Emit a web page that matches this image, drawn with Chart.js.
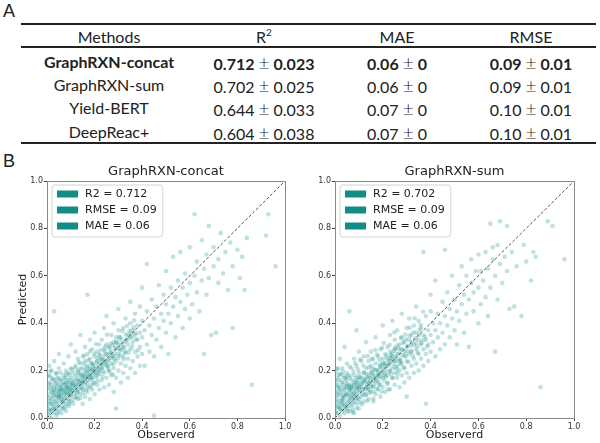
<!DOCTYPE html>
<html>
<head>
<meta charset="utf-8">
<script src="https://cdn.jsdelivr.net/npm/chart.js@4.4.0/dist/chart.umd.min.js"></script>
<style>
  html, body { margin:0; padding:0; background:#fff; }
  body { width:600px; height:443px; position:relative; overflow:hidden; font-family: Lato, "Open Sans", sans-serif; color:#222; }
  .cell { position:absolute; transform:translate(-50%,-50%); white-space:nowrap; line-height:1; font-size:16px; }
  .bold { font-weight:700; }
  .pm { font-weight:300; font-size:19px; margin:0 4px; line-height:1; }
  .rule { position:absolute; left:21px; width:575px; background:#222; }
  .panel { position:absolute; font-family: "Liberation Sans", Arial, sans-serif; font-size:18px; color:#222; }
  canvas { position:absolute; }
</style>
</head>
<body>
<div class="panel" style="left:3px;top:1px;">A</div>
<div class="panel" style="left:3px;top:151px;">B</div>
<div class="rule" style="top:23px;height:2px;"></div>
<div class="rule" style="top:46px;height:1.5px;"></div>
<div class="rule" style="top:142px;height:2px;"></div>
<div id="table"></div>
<canvas id="c1" width="300" height="283" style="left:0px;top:160px;width:300px;height:283px;"></canvas>
<canvas id="c2" width="300" height="283" style="left:300px;top:160px;width:300px;height:283px;"></canvas>
<script>
// ---------- Table data ----------
const methods = ['GraphRXN-concat', 'GraphRXN-sum', 'Yield-BERT', 'DeepReac+'];
const r2Mean  = ['0.712', '0.702', '0.644', '0.604'];
const r2Std   = ['0.023', '0.025', '0.033', '0.038'];
const maeMean = ['0.06', '0.06', '0.07', '0.07'];
const maeStd  = ['0', '0', '0', '0'];
const rmseMean = ['0.09', '0.09', '0.10', '0.10'];
const rmseStd  = ['0.01', '0.01', '0.01', '0.01'];

// ---------- Scatter data (observed, predicted) ----------
const concatPoints = [
[0.00,0.02],[0.00,0.05],[0.00,0.09],[0.00,0.13],[0.01,0.01],[0.01,0.04],[0.01,0.07],[0.01,0.10],[0.01,0.12],[0.01,0.15],[0.01,0.18],[0.01,0.22],[0.02,0.00],[0.02,0.03],[0.02,0.06],[0.02,0.08],[0.02,0.11],[0.02,0.14],[0.02,0.17],[0.02,0.20],[0.03,0.02],[0.03,0.05],[0.03,0.07],[0.03,0.09],[0.03,0.12],[0.03,0.13],[0.03,0.16],[0.03,0.24],[0.04,0.01],[0.04,0.04],[0.04,0.06],[0.04,0.10],[0.04,0.12],[0.04,0.15],[0.04,0.19],[0.05,0.03],[0.05,0.07],[0.05,0.09],[0.05,0.11],[0.05,0.14],[0.05,0.17],[0.05,0.21],[0.05,0.27],[0.06,0.02],[0.06,0.05],[0.06,0.08],[0.06,0.10],[0.06,0.13],[0.06,0.16],[0.06,0.12],[0.07,0.04],[0.07,0.07],[0.07,0.09],[0.07,0.11],[0.07,0.14],[0.07,0.18],[0.07,0.23],[0.08,0.03],[0.08,0.06],[0.08,0.10],[0.08,0.12],[0.08,0.15],[0.08,0.17],[0.08,0.20],[0.09,0.05],[0.09,0.08],[0.09,0.11],[0.09,0.13],[0.09,0.16],[0.09,0.19],[0.09,0.26],[0.10,0.07],[0.10,0.10],[0.10,0.12],[0.10,0.14],[0.10,0.17],[0.10,0.21],[0.10,0.31],
[0.03,0.45],[0.17,0.52],[0.015,0.035],[0.025,0.095],[0.035,0.145],[0.045,0.085],[0.055,0.125],[0.065,0.065],[0.075,0.105],[0.085,0.135],[0.095,0.095],[0.105,0.115],
[0.11,0.06],[0.11,0.12],[0.11,0.15],[0.11,0.19],[0.12,0.09],[0.12,0.13],[0.12,0.16],[0.12,0.22],[0.12,0.28],[0.13,0.08],[0.13,0.11],[0.13,0.14],[0.13,0.18],[0.13,0.20],[0.13,0.25],[0.14,0.10],[0.14,0.13],[0.14,0.16],[0.14,0.19],[0.14,0.23],[0.14,0.35],[0.15,0.06],[0.15,0.12],[0.15,0.15],[0.15,0.18],[0.15,0.21],[0.15,0.26],[0.16,0.09],[0.16,0.14],[0.16,0.17],[0.16,0.20],[0.16,0.24],[0.16,0.30],[0.17,0.11],[0.17,0.16],[0.17,0.19],[0.17,0.22],[0.17,0.27],[0.18,0.08],[0.18,0.13],[0.18,0.18],[0.18,0.21],[0.18,0.25],[0.18,0.33],[0.19,0.12],[0.19,0.17],[0.19,0.20],[0.19,0.23],[0.19,0.29],[0.20,0.10],[0.20,0.15],[0.20,0.19],[0.20,0.22],[0.20,0.26],[0.20,0.36],[0.21,0.14],[0.21,0.18],[0.21,0.24],[0.21,0.28],[0.22,0.12],[0.22,0.20],[0.22,0.23],[0.22,0.27],[0.22,0.31],[0.23,0.16],[0.23,0.21],[0.23,0.25],[0.23,0.33],[0.24,0.13],[0.24,0.19],[0.24,0.24],[0.24,0.29],[0.24,0.38],[0.25,0.17],[0.25,0.22],[0.25,0.27],[0.25,0.31],[0.25,0.43],
[0.26,0.14],[0.26,0.20],[0.26,0.25],[0.26,0.30],[0.27,0.18],[0.27,0.23],[0.27,0.28],[0.27,0.35],[0.28,0.11],[0.28,0.21],[0.28,0.26],[0.28,0.32],[0.28,0.40],[0.29,0.04],[0.29,0.17],[0.29,0.24],[0.29,0.29],[0.29,0.34],[0.30,0.20],[0.30,0.27],[0.30,0.31],[0.30,0.37],[0.30,0.46],[0.31,0.15],[0.31,0.23],[0.31,0.29],[0.31,0.33],[0.32,0.19],[0.32,0.26],[0.32,0.30],[0.32,0.38],[0.33,0.22],[0.33,0.28],[0.33,0.33],[0.33,0.42],[0.34,0.17],[0.34,0.25],[0.34,0.31],[0.34,0.35],[0.35,0.21],[0.35,0.29],[0.35,0.34],[0.35,0.40],[0.35,0.49],[0.36,0.24],[0.36,0.32],[0.36,0.37],[0.37,0.19],[0.37,0.28],[0.37,0.35],[0.37,0.44],[0.38,0.26],[0.38,0.33],[0.38,0.39],[0.39,0.22],[0.39,0.30],[0.39,0.36],[0.39,0.47],[0.40,0.27],[0.40,0.34],[0.40,0.41],[0.40,0.55],
[0.41,0.22],[0.41,0.37],[0.42,0.31],[0.42,0.45],[0.42,0.65],[0.43,0.28],[0.43,0.39],[0.44,0.35],[0.44,0.50],[0.45,0.01],[0.45,0.26],[0.45,0.42],[0.46,0.33],[0.46,0.47],[0.47,0.38],[0.47,0.56],[0.48,0.30],[0.48,0.44],[0.49,0.41],[0.49,0.52],[0.50,0.36],[0.50,0.48],[0.50,0.62],[0.51,0.27],[0.51,0.44],[0.52,0.40],[0.52,0.55],[0.53,0.47],[0.53,0.68],[0.54,0.34],[0.54,0.51],[0.55,0.43],[0.55,0.58],[0.56,0.49],[0.56,0.70],[0.57,0.38],[0.57,0.55],[0.58,0.46],[0.58,0.61],[0.59,0.52],[0.60,0.42],[0.60,0.57],[0.60,0.72],
[0.61,0.48],[0.62,0.60],[0.62,0.86],[0.63,0.53],[0.63,0.66],[0.64,0.45],[0.65,0.58],[0.65,0.75],[0.66,0.27],[0.66,0.63],[0.67,0.52],[0.67,0.69],[0.68,0.59],[0.68,0.81],[0.69,0.35],[0.70,0.64],[0.70,0.72],[0.71,0.36],[0.72,0.57],[0.72,0.67],[0.73,0.78],[0.74,0.61],[0.75,0.70],[0.76,0.54],[0.77,0.74],[0.78,0.38],[0.78,0.64],[0.80,0.71],[0.81,0.59],[0.82,0.68],[0.83,0.54],[0.84,0.76],[0.86,0.14],[0.92,0.77],[0.93,0.86],[0.96,0.64]
];
const concatDense = [
[0.012,0.083],[0.018,0.127],[0.023,0.162],[0.027,0.041],[0.031,0.108],[0.036,0.071],[0.038,0.187],[0.042,0.133],[0.047,0.052],[0.049,0.116],[0.053,0.158],[0.058,0.094],[0.061,0.141],[0.064,0.038],[0.068,0.121],[0.072,0.168],[0.076,0.083],[0.079,0.129],[0.083,0.112],[0.087,0.152],[0.091,0.071],[0.094,0.183],[0.097,0.124],[0.102,0.093],[0.106,0.158],[0.109,0.134],[0.113,0.104],[0.117,0.176],[0.121,0.142],[0.124,0.087],[0.128,0.193],[0.132,0.156],[0.136,0.121],[0.139,0.208],[0.143,0.143],[0.147,0.172],[0.152,0.106],[0.155,0.229],[0.158,0.187],[0.162,0.153],[0.166,0.214],[0.171,0.128],[0.174,0.243],[0.178,0.196],[0.183,0.162],[0.186,0.231],[0.191,0.184],[0.195,0.147],[0.198,0.271],[0.203,0.207],[0.207,0.172],[0.212,0.254],[0.216,0.219],[0.221,0.186],[0.226,0.287],[0.231,0.232],[0.236,0.198],[0.241,0.263],[0.246,0.228],[0.252,0.352],[0.257,0.242],[0.262,0.196],[0.268,0.314],[0.274,0.262],[0.279,0.227],[0.285,0.296],[0.291,0.318],[0.297,0.253],[0.303,0.342],[0.309,0.284],[0.316,0.367],[0.322,0.248],[0.329,0.321],[0.336,0.388],[0.343,0.276],[0.351,0.357],[0.358,0.302],[0.366,0.412],[0.374,0.331],[0.383,0.286],
[0.006,0.062],[0.008,0.141],[0.004,0.176],[0.009,0.027],[0.014,0.198],[0.019,0.058],[0.026,0.112],[0.033,0.035],[0.041,0.167],[0.044,0.021],[0.051,0.088],[0.057,0.192],[0.063,0.074],[0.069,0.152],[0.074,0.047],[0.081,0.186],[0.088,0.098],[0.093,0.058],[0.099,0.147],[0.104,0.204],[0.111,0.078],[0.118,0.212],[0.126,0.108],[0.134,0.236],[0.141,0.084],[0.149,0.128],[0.157,0.264],[0.164,0.118],[0.172,0.177],[0.181,0.282],[0.188,0.138],[0.196,0.209],[0.206,0.312],[0.214,0.156],[0.224,0.247],[0.233,0.173],[0.244,0.302],[0.255,0.211],[0.266,0.276],[0.277,0.184]
];
const concatCore = [
[0.052,0.104],[0.078,0.141],[0.096,0.112],[0.118,0.137],[0.129,0.162],[0.137,0.148],[0.144,0.181],[0.153,0.163],[0.161,0.176],[0.168,0.198],[0.176,0.171],[0.184,0.206],[0.192,0.224],[0.199,0.196],[0.208,0.236],[0.217,0.203],[0.223,0.262],[0.229,0.214],[0.237,0.247],[0.243,0.281],[0.249,0.238],[0.256,0.268],[0.263,0.296],[0.271,0.254],[0.278,0.307],[0.286,0.271],[0.293,0.322],[0.301,0.295],[0.308,0.341],[0.315,0.313],[0.324,0.296],[0.331,0.352],[0.339,0.331],[0.347,0.368],[0.356,0.342],[0.364,0.383],[0.372,0.358],[0.041,0.094],[0.062,0.117],[0.086,0.128],[0.107,0.142],[0.122,0.118],[0.148,0.151],[0.171,0.146],[0.189,0.168],[0.212,0.191],[0.233,0.226],[0.258,0.221],[0.282,0.248],[0.306,0.262],[0.327,0.274]
];

const sumPoints = [
[0.00,0.03],[0.00,0.07],[0.00,0.11],[0.00,0.16],[0.00,0.19],[0.01,0.02],[0.01,0.05],[0.01,0.08],[0.01,0.11],[0.01,0.14],[0.01,0.17],[0.01,0.21],[0.02,0.01],[0.02,0.04],[0.02,0.07],[0.02,0.10],[0.02,0.13],[0.02,0.16],[0.02,0.25],[0.03,0.03],[0.03,0.06],[0.03,0.08],[0.03,0.11],[0.03,0.14],[0.03,0.18],[0.03,0.21],[0.04,0.02],[0.04,0.05],[0.04,0.09],[0.04,0.12],[0.04,0.15],[0.04,0.17],[0.04,0.30],[0.05,0.04],[0.05,0.06],[0.05,0.10],[0.05,0.13],[0.05,0.16],[0.05,0.19],[0.05,0.23],[0.06,0.03],[0.06,0.07],[0.06,0.09],[0.06,0.12],[0.06,0.14],[0.06,0.18],[0.06,0.45],[0.07,0.05],[0.07,0.08],[0.07,0.10],[0.07,0.13],[0.07,0.16],[0.07,0.21],[0.08,0.02],[0.08,0.07],[0.08,0.09],[0.08,0.11],[0.08,0.14],[0.08,0.18],[0.08,0.25],[0.09,0.06],[0.09,0.10],[0.09,0.12],[0.09,0.15],[0.09,0.17],[0.09,0.22],[0.09,0.37],[0.10,0.04],[0.10,0.08],[0.10,0.11],[0.10,0.13],[0.10,0.16],[0.10,0.19],[0.10,0.28],
[0.005,0.045],[0.015,0.125],[0.025,0.055],[0.035,0.095],[0.045,0.135],[0.055,0.075],[0.065,0.105],[0.075,0.035],[0.085,0.125],[0.095,0.085],[0.105,0.145],
[0.11,0.09],[0.11,0.13],[0.11,0.17],[0.11,0.24],[0.12,0.07],[0.12,0.11],[0.12,0.15],[0.12,0.19],[0.12,0.26],[0.13,0.10],[0.13,0.13],[0.13,0.17],[0.13,0.21],[0.13,0.32],[0.14,0.08],[0.14,0.12],[0.14,0.15],[0.14,0.18],[0.14,0.24],[0.15,0.11],[0.15,0.14],[0.15,0.19],[0.15,0.22],[0.15,0.28],[0.16,0.07],[0.16,0.13],[0.16,0.16],[0.16,0.21],[0.16,0.25],[0.17,0.10],[0.17,0.15],[0.17,0.18],[0.17,0.23],[0.17,0.34],[0.18,0.12],[0.18,0.17],[0.18,0.20],[0.18,0.26],[0.19,0.09],[0.19,0.14],[0.19,0.19],[0.19,0.22],[0.19,0.29],[0.20,0.13],[0.20,0.17],[0.20,0.21],[0.20,0.25],[0.20,0.39],[0.21,0.11],[0.21,0.19],[0.21,0.23],[0.21,0.27],[0.22,0.15],[0.22,0.18],[0.22,0.22],[0.22,0.30],[0.23,0.12],[0.23,0.20],[0.23,0.24],[0.23,0.28],[0.23,0.35],[0.24,0.17],[0.24,0.21],[0.24,0.26],[0.24,0.41],[0.25,0.14],[0.25,0.19],[0.25,0.24],[0.25,0.29],[0.25,0.33],
[0.26,0.17],[0.26,0.22],[0.26,0.27],[0.26,0.37],[0.27,0.13],[0.27,0.20],[0.27,0.25],[0.27,0.31],[0.28,0.18],[0.28,0.23],[0.28,0.29],[0.28,0.34],[0.28,0.44],[0.29,0.15],[0.29,0.21],[0.29,0.26],[0.29,0.32],[0.30,0.09],[0.30,0.19],[0.30,0.24],[0.30,0.30],[0.30,0.38],[0.31,0.17],[0.31,0.27],[0.31,0.33],[0.31,0.42],[0.32,0.22],[0.32,0.28],[0.32,0.35],[0.33,0.19],[0.33,0.25],[0.33,0.31],[0.33,0.39],[0.34,0.23],[0.34,0.29],[0.34,0.36],[0.34,0.47],[0.35,0.20],[0.35,0.27],[0.35,0.33],[0.35,0.41],[0.36,0.25],[0.36,0.31],[0.36,0.38],[0.37,0.22],[0.37,0.29],[0.37,0.35],[0.37,0.70],[0.38,0.06],[0.38,0.27],[0.38,0.33],[0.38,0.43],[0.39,0.24],[0.39,0.31],[0.39,0.37],[0.40,0.28],[0.40,0.35],[0.40,0.45],[0.40,0.52],
[0.41,0.32],[0.41,0.40],[0.42,0.26],[0.42,0.37],[0.42,0.58],[0.43,0.34],[0.43,0.44],[0.44,0.29],[0.44,0.40],[0.45,0.36],[0.45,0.49],[0.46,0.31],[0.46,0.43],[0.46,0.71],[0.47,0.39],[0.47,0.53],[0.48,0.34],[0.48,0.46],[0.49,0.42],[0.49,0.60],[0.50,0.37],[0.50,0.50],[0.51,0.31],[0.51,0.45],[0.52,0.41],[0.52,0.56],[0.53,0.48],[0.53,0.64],[0.54,0.36],[0.54,0.52],[0.55,0.44],[0.55,0.60],[0.56,0.30],[0.56,0.50],[0.57,0.57],[0.57,0.67],[0.58,0.45],[0.58,0.53],[0.59,0.62],[0.60,0.40],[0.60,0.55],[0.60,0.69],
[0.61,0.48],[0.61,0.62],[0.62,0.58],[0.63,0.51],[0.63,0.70],[0.64,0.43],[0.64,0.63],[0.65,0.55],[0.65,0.82],[0.66,0.67],[0.66,0.72],[0.67,0.28],[0.67,0.60],[0.68,0.50],[0.68,0.73],[0.69,0.65],[0.69,0.83],[0.70,0.57],[0.71,0.68],[0.72,0.81],[0.72,0.62],[0.73,0.46],[0.74,0.70],[0.75,0.47],[0.76,0.64],[0.78,0.43],[0.79,0.73],[0.80,0.66],[0.82,0.58],[0.83,0.70],[0.84,0.68],[0.86,0.13],[0.89,0.83],[0.91,0.81],[0.96,0.67]
];
const sumDense = [
[0.003,0.092],[0.007,0.134],[0.011,0.063],[0.016,0.182],[0.021,0.118],[0.024,0.036],[0.028,0.152],[0.032,0.087],[0.037,0.124],[0.039,0.054],[0.043,0.168],[0.046,0.104],[0.052,0.142],[0.054,0.028],[0.059,0.117],[0.062,0.171],[0.066,0.086],[0.071,0.138],[0.073,0.061],[0.077,0.194],[0.082,0.104],[0.086,0.158],[0.089,0.079],[0.092,0.132],[0.096,0.206],[0.101,0.118],[0.103,0.066],[0.107,0.174],[0.112,0.142],[0.116,0.098],[0.119,0.221],[0.123,0.163],[0.127,0.124],[0.131,0.187],[0.135,0.072],[0.138,0.148],[0.142,0.214],[0.146,0.167],[0.151,0.132],[0.154,0.248],[0.159,0.176],[0.163,0.112],[0.167,0.202],[0.172,0.157],[0.176,0.268],[0.181,0.188],[0.184,0.139],[0.189,0.226],[0.193,0.174],[0.197,0.296],[0.202,0.233],[0.206,0.158],[0.211,0.204],[0.215,0.262],[0.219,0.143],[0.224,0.241],[0.229,0.309],[0.234,0.187],[0.238,0.272],[0.243,0.228],[0.248,0.361],[0.253,0.258],[0.259,0.205],[0.264,0.293],[0.271,0.241],[0.276,0.338],[0.282,0.266],[0.288,0.214],[0.294,0.352],[0.301,0.283],[0.307,0.236],[0.313,0.381],[0.319,0.305],[0.326,0.262],[0.333,0.421],[0.339,0.318],[0.346,0.277],[0.354,0.372],[0.361,0.316],[0.369,0.448],[0.377,0.342],[0.386,0.301],
[0.004,0.021],[0.006,0.154],[0.009,0.205],[0.013,0.098],[0.017,0.043],[0.022,0.186],[0.029,0.072],[0.034,0.196],[0.041,0.038],[0.048,0.178],[0.056,0.052],[0.061,0.216],[0.067,0.127],[0.074,0.024],[0.079,0.149],[0.084,0.232],[0.091,0.042],[0.098,0.172],[0.105,0.247],[0.113,0.058],[0.121,0.193],[0.129,0.096],[0.137,0.261],[0.145,0.107],[0.153,0.198],[0.161,0.081],[0.169,0.287],[0.178,0.124],[0.186,0.246],[0.195,0.112],[0.204,0.316],[0.213,0.174],[0.222,0.121],[0.232,0.253],[0.241,0.169],[0.251,0.296],[0.262,0.187],[0.273,0.228]
];
const sumCore = [
[0.048,0.097],[0.069,0.122],[0.093,0.144],[0.114,0.121],[0.126,0.158],[0.134,0.139],[0.141,0.172],[0.149,0.155],[0.157,0.188],[0.165,0.168],[0.173,0.203],[0.182,0.179],[0.188,0.212],[0.196,0.193],[0.203,0.228],[0.211,0.218],[0.218,0.251],[0.226,0.226],[0.233,0.263],[0.241,0.247],[0.247,0.282],[0.255,0.241],[0.261,0.306],[0.268,0.272],[0.276,0.289],[0.284,0.318],[0.291,0.278],[0.298,0.331],[0.305,0.305],[0.312,0.347],[0.321,0.321],[0.328,0.362],[0.336,0.336],[0.344,0.302],[0.352,0.351],[0.359,0.392],[0.367,0.327],[0.038,0.071],[0.057,0.133],[0.081,0.091],[0.099,0.131],[0.117,0.154],[0.139,0.122],[0.162,0.137],[0.183,0.153],[0.207,0.181],[0.228,0.196],[0.252,0.214],[0.274,0.241],[0.297,0.262],[0.318,0.281]
];

const identityLine = [[0, 0], [1, 1]];
const axisTicks = [0, 0.2, 0.4, 0.6, 0.8, 1.0];
const concatLegend = ['R2 = 0.712', 'RMSE = 0.09', 'MAE = 0.06'];
const sumLegend = ['R2 = 0.702', 'RMSE = 0.09', 'MAE = 0.06'];

// ---------- Build table ----------
(function buildTable() {
  const t = document.getElementById('table');
  const colX = [109, 264, 397, 531];
  const rowY = [37, 62, 85, 108, 132];
  const add = (html, x, y, cls) => {
    const d = document.createElement('div');
    d.className = 'cell' + (cls ? ' ' + cls : '');
    d.style.left = x + 'px'; d.style.top = y + 'px';
    d.innerHTML = html; t.appendChild(d);
  };
  add('Methods', colX[0], rowY[0]);
  add('R<sup style="font-size:10px;vertical-align:7px;">2</sup>', colX[1], rowY[0] - 1);
  add('MAE', colX[2], rowY[0]);
  add('RMSE', colX[3], rowY[0]);
  const pm = '<span class="pm">±</span>';
  methods.forEach((m, i) => {
    const cls = i === 0 ? 'bold' : '';
    add(m, colX[0], rowY[i + 1], cls);
    add(r2Mean[i] + pm + r2Std[i], colX[1], rowY[i + 1], cls);
    add(maeMean[i] + pm + maeStd[i], colX[2], rowY[i + 1], cls);
    add(rmseMean[i] + pm + rmseStd[i], colX[3], rowY[i + 1], cls);
  });
})();

// ---------- Plugins ----------
const LEGEND_FONT = 'normal 11px "DejaVu Sans", sans-serif';
const framePlugin = {
  id: 'frame',
  afterDraw(chart) {
    const {ctx, chartArea: a} = chart;
    ctx.save();
    ctx.strokeStyle = '#8a8a8a';
    ctx.lineWidth = 1;
    ctx.strokeRect(Math.round(a.left) + 0.5, Math.round(a.top) + 0.5, Math.round(a.right - a.left), Math.round(a.bottom - a.top));
    ctx.restore();
  }
};
const statLegend = {
  id: 'statLegend',
  afterDraw(chart, args, opts) {
    const {ctx, chartArea: a} = chart;
    const labels = opts.labels || [];
    ctx.save();
    ctx.font = LEGEND_FONT;
    const tw = Math.max(...labels.map(l => ctx.measureText(l).width));
    const x = a.left + 5, y = a.top + 4, w = 5 + 21 + 7 + tw + 6, h = 52, r = 3;
    ctx.beginPath();
    ctx.moveTo(x + r, y); ctx.lineTo(x + w - r, y); ctx.quadraticCurveTo(x + w, y, x + w, y + r);
    ctx.lineTo(x + w, y + h - r); ctx.quadraticCurveTo(x + w, y + h, x + w - r, y + h);
    ctx.lineTo(x + r, y + h); ctx.quadraticCurveTo(x, y + h, x, y + h - r);
    ctx.lineTo(x, y + r); ctx.quadraticCurveTo(x, y, x + r, y); ctx.closePath();
    ctx.fillStyle = 'rgba(255,255,255,0.85)'; ctx.fill();
    ctx.strokeStyle = '#d4d4d4'; ctx.lineWidth = 1; ctx.stroke();
    labels.forEach((l, i) => {
      const cy = y + 9 + i * 16;
      ctx.fillStyle = '#138b88';
      ctx.fillRect(x + 5, cy - 3.5, 21, 7);
      ctx.fillStyle = '#222';
      ctx.textBaseline = 'middle';
      ctx.textAlign = 'left';
      ctx.fillText(l, x + 33, cy + 0.5);
    });
    ctx.restore();
  }
};

// ---------- Charts ----------
function makePlot(id, title, points, legendLabels, yTitle, yWidth, rightPad) {
  const tickFont = {family: 'DejaVu Sans', size: 8};
  new Chart(document.getElementById(id), {
    type: 'scatter',
    data: {
      datasets: [
        {
          data: points.map(p => ({x: p[0], y: p[1]})),
          backgroundColor: 'rgba(20,145,141,0.27)',
          borderWidth: 0,
          pointRadius: 2.3,
          order: 2
        },
        {
          data: identityLine.map(p => ({x: p[0], y: p[1]})),
          showLine: true,
          borderColor: 'rgba(40,40,40,0.9)',
          borderWidth: 0.9,
          borderDash: [3, 2],
          pointRadius: 0,
          fill: false,
          order: 1
        }
      ]
    },
    options: {
      responsive: false,
      animation: false,
      devicePixelRatio: 1,
      layout: {padding: {left: 0, right: rightPad, top: 0, bottom: 0}},
      plugins: {
        legend: {display: false},
        tooltip: {enabled: false},
        title: {
          display: true, text: title, fullSize: false,
          font: {family: 'DejaVu Sans', size: 13, weight: 'normal'}, color: '#222',
          padding: {top: 4, bottom: 1.4}
        },
        statLegend: {labels: legendLabels}
      },
      scales: {
        x: {
          type: 'linear', min: 0, max: 1,
          afterBuildTicks: s => { s.ticks = axisTicks.map(v => ({value: v})); },
          ticks: {callback: v => Number(v).toFixed(1), font: tickFont, color: '#333', padding: 1, maxRotation: 0, autoSkip: false},
          grid: {display: true, drawOnChartArea: false, drawTicks: true, tickLength: 3, color: '#444'},
          border: {display: false},
          title: {display: true, text: 'Observerd', font: {family: 'DejaVu Sans', size: 11}, color: '#222', padding: {top: 0, bottom: 1}},
          afterFit: s => { s.height = 25; }
        },
        y: {
          type: 'linear', min: 0, max: 1,
          afterBuildTicks: s => { s.ticks = axisTicks.map(v => ({value: v})); },
          ticks: {callback: v => Number(v).toFixed(1), font: tickFont, color: '#333', padding: 1, autoSkip: false},
          grid: {display: true, drawOnChartArea: false, drawTicks: true, tickLength: 3, color: '#444'},
          border: {display: false},
          title: {display: !!yTitle, text: yTitle || '', font: {family: 'DejaVu Sans', size: 11}, color: '#222', padding: {top: 17, bottom: 0}},
          afterFit: s => { s.width = yWidth; }
        }
      }
    },
    plugins: [framePlugin, statLegend]
  });
}

makePlot('c1', 'GraphRXN-concat', concatPoints.concat(concatDense, concatCore), concatLegend, 'Predicted', 47, 15);
makePlot('c2', 'GraphRXN-sum', sumPoints.concat(sumDense, sumCore), sumLegend, null, 35, 26);
</script>
</body>
</html>
